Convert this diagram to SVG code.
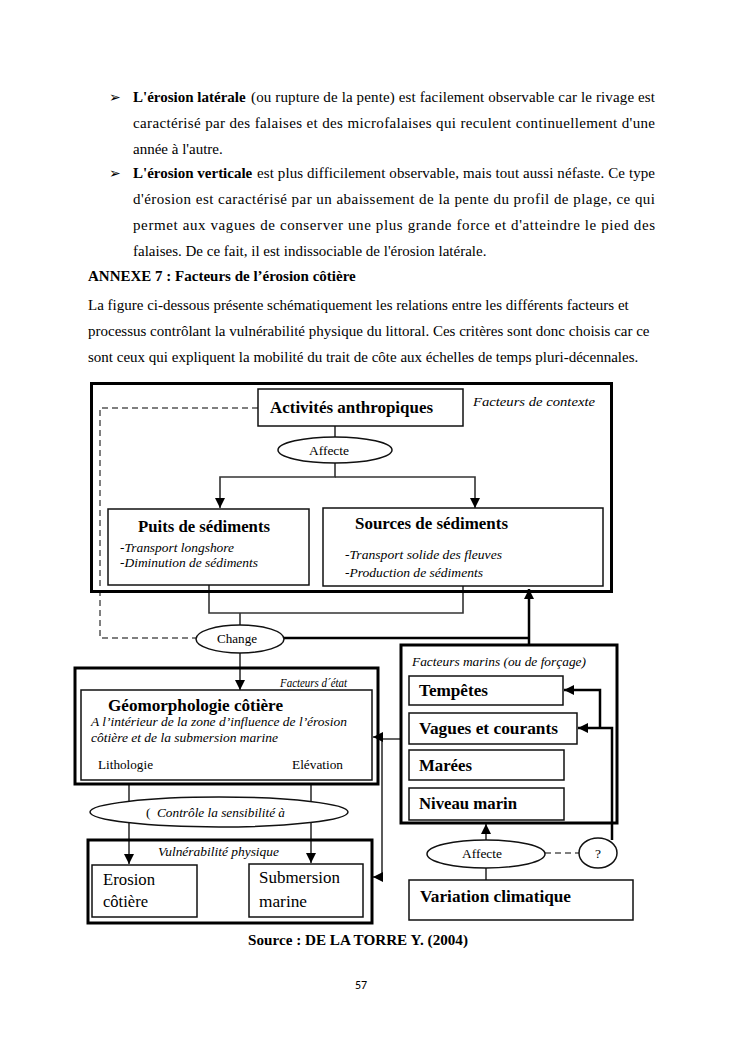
<svg xmlns="http://www.w3.org/2000/svg" width="745" height="1053" viewBox="0 0 745 1053">
<style>
.bg{fill:#fff}
.body{font-family:"Liberation Serif","Times New Roman",serif;font-size:15px;fill:#000}
.b{font-weight:bold}
.it{font-style:italic}
.bul{font-family:"DejaVu Sans",sans-serif;font-size:14px;fill:#000}
.t17b{font-family:"Liberation Serif",serif;font-size:17px;font-weight:bold;fill:#000}
.t17{font-family:"Liberation Serif",serif;font-size:17px;fill:#000}
.t13i{font-family:"Liberation Serif",serif;font-size:13.5px;font-style:italic;fill:#000}
.t13{font-family:"Liberation Serif",serif;font-size:13.5px;fill:#000}
.outer{fill:none;stroke:#000;stroke-width:3}
.box{fill:#fff;stroke:#111;stroke-width:1.5}
.ell{fill:#fff;stroke:#111;stroke-width:1.5}
.ln{fill:none;stroke:#333;stroke-width:1.6}
.thk{fill:none;stroke:#000;stroke-width:2.5}
.dash{fill:none;stroke:#555;stroke-width:1.5;stroke-dasharray:6 4}
</style>
<defs>
<marker id="arr" viewBox="0 0 10 10" refX="10" refY="5" markerWidth="10" markerHeight="10" markerUnits="userSpaceOnUse" orient="auto">
<path d="M0,0 L10,5 L0,10 z" fill="#000"/>
</marker>
</defs>
<rect class="bg" x="0" y="0" width="745" height="1053"/>

<g id="page-text">
<text class="bul" x="109" y="102">➢</text>
<text class="body" y="102"><tspan class="b" x="133">L'érosion latérale</tspan><tspan x="251" textLength="404" lengthAdjust="spacing">(ou rupture de la pente) est facilement observable car le rivage est</tspan></text>
<text class="body" x="133" y="128" textLength="522" lengthAdjust="spacing">caractérisé par des falaises et des microfalaises qui reculent continuellement d'une</text>
<text class="body" x="133" y="154">année à l'autre.</text>
<text class="bul" x="109" y="178">➢</text>
<text class="body" y="178"><tspan class="b" x="133">L'érosion verticale</tspan><tspan x="257" textLength="398" lengthAdjust="spacing">est plus difficilement observable, mais tout aussi néfaste. Ce type</tspan></text>
<text class="body" x="133" y="204" textLength="522" lengthAdjust="spacing">d'érosion est caractérisé par un abaissement de la pente du profil de plage, ce qui</text>
<text class="body" x="133" y="230" textLength="522" lengthAdjust="spacing">permet aux vagues de conserver une plus grande force et d'atteindre le pied des</text>
<text class="body" x="133" y="256">falaises. De ce fait, il est indissociable de l'érosion latérale.</text>
<text class="body b" x="88" y="281">ANNEXE 7 : Facteurs de l’érosion côtière</text>
<text class="body" x="88" y="310">La figure ci-dessous présente schématiquement les relations entre les différents facteurs et</text>
<text class="body" x="88" y="336">processus contrôlant la vulnérabilité physique du littoral. Ces critères sont donc choisis car ce</text>
<text class="body" x="88" y="362">sont ceux qui expliquent la mobilité du trait de côte aux échelles de temps pluri-décennales.</text>
<text class="body b" x="248" y="945" textLength="220" lengthAdjust="spacingAndGlyphs">Source : DE LA TORRE Y. (2004)</text>
<text x="361" y="989" text-anchor="middle" font-family="Carlito, 'Liberation Sans', sans-serif" font-size="12" fill="#000">57</text>
</g>

<g id="connectors">
<path class="dash" d="M258,408 H100 V638 H196"/>
<path class="ln" d="M335,426 V437"/>
<path class="ln" d="M335,463 V477 H220 V508" marker-end="url(#arr)"/>
<path class="ln" d="M335,477 H475 V508" marker-end="url(#arr)"/>
<path class="ln" d="M209,585 V613 H463 V586"/>
<path class="ln" d="M240,613 V625"/>
<path class="ln" d="M240,653 V690" marker-end="url(#arr)"/>
<path class="thk" d="M284,638 H529"/>
<path class="thk" d="M529,645 V589" marker-end="url(#arr)"/>
<path class="ln" d="M401,739 H382 V877 H373" marker-end="url(#arr)"/>
<path class="ln" d="M382,737 H373" marker-end="url(#arr)"/>
<path class="ln" d="M486,840 V824" marker-end="url(#arr)"/>
<path class="ln" d="M486,868 V880"/>
<path class="dash" d="M545,853 H579"/>
<path class="thk" d="M612,840 V728 H578" marker-end="url(#arr)"/>
<path class="thk" d="M600,728 V690 H564" marker-end="url(#arr)"/>
<path class="ln" d="M129,784 V864" marker-end="url(#arr)"/>
<path class="ln" d="M311,784 V863" marker-end="url(#arr)"/>
</g>

<g id="facteurs-contexte">
<rect class="outer" x="91.5" y="383.5" width="520" height="208"/>
<text class="t13i" x="473" y="406" font-size="14.5" textLength="122" lengthAdjust="spacingAndGlyphs">Facteurs de contexte</text>
</g>
<g id="activites">
<rect class="box" x="258" y="389" width="205" height="37"/>
<text class="t17b" x="270" y="413" textLength="163" lengthAdjust="spacingAndGlyphs">Activités anthropiques</text>
</g>
<g id="affecte-1">
<ellipse class="ell" cx="335" cy="450" rx="57" ry="13"/>
<text class="t13" x="309" y="455" font-size="12.5" textLength="40" lengthAdjust="spacing">Affecte</text>
</g>
<g id="puits">
<rect class="box" x="108" y="509" width="201" height="76"/>
<text class="t17b" x="138" y="532" textLength="132" lengthAdjust="spacingAndGlyphs">Puits de sédiments</text>
<text class="t13i" x="120" y="552" textLength="114" lengthAdjust="spacingAndGlyphs">-Transport longshore</text>
<text class="t13i" x="120" y="567" textLength="138" lengthAdjust="spacingAndGlyphs">-Diminution de sédiments</text>
</g>
<g id="sources">
<rect class="box" x="323" y="508" width="280" height="78"/>
<text class="t17b" x="355" y="529" textLength="153" lengthAdjust="spacingAndGlyphs">Sources de sédiments</text>
<text class="t13i" x="345" y="559" textLength="157" lengthAdjust="spacingAndGlyphs">-Transport solide des fleuves</text>
<text class="t13i" x="345" y="577" textLength="138" lengthAdjust="spacingAndGlyphs">-Production de sédiments</text>
</g>
<g id="change">
<ellipse class="ell" cx="240" cy="639" rx="44" ry="14" stroke-width="2"/>
<text class="t13" x="217" y="643" font-size="14" textLength="40" lengthAdjust="spacingAndGlyphs">Change</text>
</g>
<g id="facteurs-etat">
<rect class="outer" x="75" y="668" width="303" height="116"/>
<text class="t13i" x="280" y="687" font-size="11" textLength="67" lengthAdjust="spacingAndGlyphs">Facteurs d´état</text>
</g>
<g id="geomorphologie">
<rect class="box" x="81" y="690" width="291" height="90"/>
<text class="t17b" x="108" y="711" textLength="175" lengthAdjust="spacingAndGlyphs">Géomorphologie côtière</text>
<text class="t13i" x="91" y="726" textLength="256" lengthAdjust="spacingAndGlyphs">A l’intérieur de la zone d’influence de l’érosion</text>
<text class="t13i" x="91" y="742" textLength="187" lengthAdjust="spacingAndGlyphs">côtière et de la submersion marine</text>
<text class="t13" x="98" y="769" textLength="55" lengthAdjust="spacingAndGlyphs">Lithologie</text>
<text class="t13" x="292" y="769" textLength="51" lengthAdjust="spacingAndGlyphs">Elévation</text>
</g>
<g id="controle">
<ellipse class="ell" cx="219" cy="812" rx="129" ry="15"/>
<text class="t13" x="146" y="817" font-size="10" fill="#777">(</text>
<text class="t13i" x="157" y="817" textLength="128" lengthAdjust="spacingAndGlyphs">Contrôle la sensibilité à</text>
</g>
<g id="vulnerabilite">
<rect class="outer" x="88" y="840" width="284" height="83" stroke-width="3.5"/>
<text class="t13i" x="158" y="856" textLength="121" lengthAdjust="spacingAndGlyphs">Vulnérabilité physique</text>
</g>
<g id="erosion">
<rect class="box" x="92" y="865" width="105" height="52"/>
<text class="t17" x="103" y="885" textLength="52" lengthAdjust="spacingAndGlyphs">Erosion</text>
<text class="t17" x="103" y="907" textLength="45" lengthAdjust="spacingAndGlyphs">côtière</text>
</g>
<g id="submersion">
<rect class="box" x="249" y="864" width="114" height="53"/>
<text class="t17" x="259" y="883" textLength="81" lengthAdjust="spacingAndGlyphs">Submersion</text>
<text class="t17" x="259" y="907" textLength="48" lengthAdjust="spacingAndGlyphs">marine</text>
</g>
<g id="facteurs-marins">
<rect class="outer" x="401" y="645" width="216" height="178"/>
<text class="t13i" x="412" y="666" textLength="174" lengthAdjust="spacingAndGlyphs">Facteurs marins (ou de forçage)</text>
</g>
<g id="tempetes">
<rect class="box" x="409" y="676" width="154" height="29"/>
<text class="t17b" x="419" y="696" textLength="69" lengthAdjust="spacingAndGlyphs">Tempêtes</text>
</g>
<g id="vagues">
<rect class="box" x="409" y="713" width="168" height="31"/>
<text class="t17b" x="419" y="734" textLength="139" lengthAdjust="spacingAndGlyphs">Vagues et courants</text>
</g>
<g id="marees">
<rect class="box" x="409" y="750" width="155" height="30"/>
<text class="t17b" x="419" y="771" textLength="53" lengthAdjust="spacingAndGlyphs">Marées</text>
</g>
<g id="niveau">
<rect class="box" x="409" y="788" width="155" height="32"/>
<text class="t17b" x="419" y="809" textLength="98" lengthAdjust="spacingAndGlyphs">Niveau marin</text>
</g>
<g id="affecte-2">
<ellipse class="ell" cx="486" cy="854" rx="59" ry="14"/>
<text class="t13" x="462" y="858" font-size="12.5" textLength="40" lengthAdjust="spacingAndGlyphs">Affecte</text>
</g>
<g id="question">
<ellipse class="ell" cx="598" cy="853" rx="19" ry="15"/>
<text class="t13" x="598" y="858" font-size="12" text-anchor="middle">?</text>
</g>
<g id="variation">
<rect class="box" x="409" y="880" width="224" height="40"/>
<text class="t17b" x="420" y="902" textLength="151" lengthAdjust="spacingAndGlyphs">Variation climatique</text>
</g>
</svg>
